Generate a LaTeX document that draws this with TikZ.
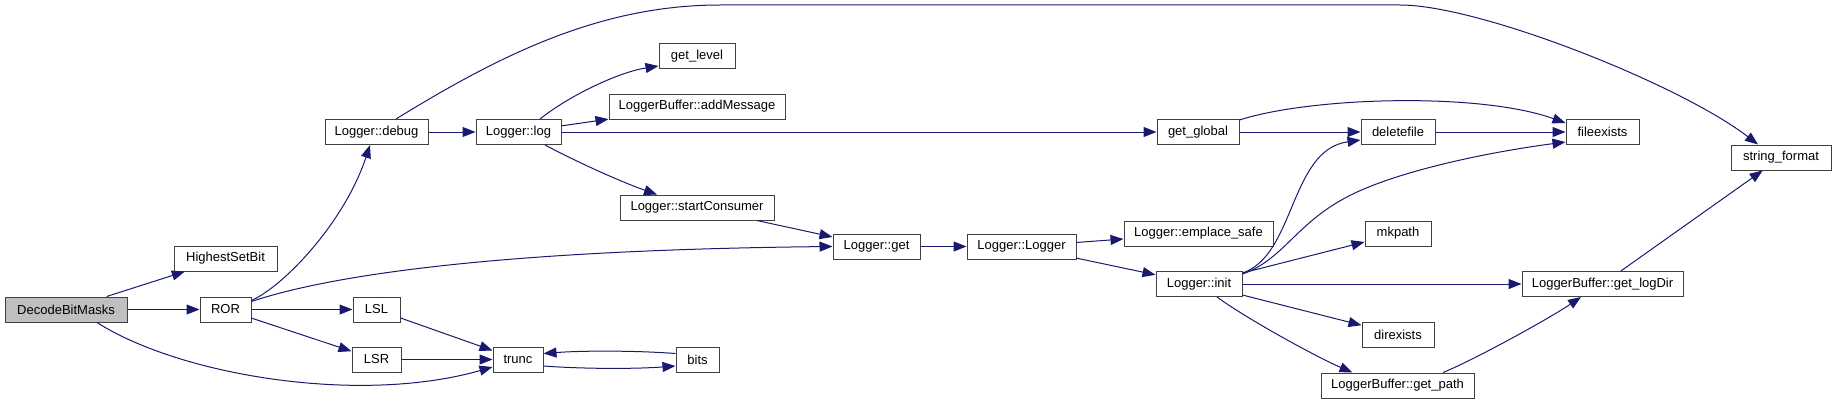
\documentclass[tikz,border=0pt]{standalone}
\usepackage{fontspec}
\setmainfont{Liberation Sans}
\usetikzlibrary{arrows.meta}
\definecolor{edgeblue}{HTML}{191970}
\definecolor{boxline}{HTML}{404040}
\definecolor{rootfill}{HTML}{BFBFBF}
\tikzset{
  fn/.style={draw=boxline, line width=1pt, fill=white, minimum height=25pt, inner sep=0pt,
    font=\fontsize{13pt}{15pt}\selectfont},
  edge/.style={draw=edgeblue, line width=1pt,
    -{Triangle[length=13pt, width=10pt]}},
}
\begin{document}
\begin{tikzpicture}[x=1pt, y=-1pt]
\useasboundingbox (0,0) rectangle (1833,404);
% nodes
\node[fn, fill=rootfill, minimum width=122pt] (decode) at (66,309.5) {DecodeBitMasks};
\node[fn, minimum width=103pt] (hsb) at (225.5,258.5) {HighestSetBit};
\node[fn, minimum width=51pt] (ror) at (225.5,309.5) {ROR};
\node[fn, minimum width=103pt] (debug) at (376.5,132) {Logger::debug};
\node[fn, minimum width=47pt] (lsl) at (376.5,309.5) {LSL};
\node[fn, minimum width=49pt] (lsr) at (376.5,359.5) {LSR};
\node[fn, minimum width=85pt] (log) at (518.5,132) {Logger::log};
\node[fn, minimum width=50pt] (trunc) at (518,359.5) {trunc};
\node[fn, minimum width=76pt] (getlevel) at (697,56) {get\_level};
\node[fn, minimum width=176pt] (addmsg) at (697,106.5) {LoggerBuffer::addMessage};
\node[fn, minimum width=154pt] (startc) at (697,207.5) {Logger::startConsumer};
\node[fn, minimum width=43pt] (bits) at (697.5,359.5) {bits};
\node[fn, minimum width=82pt] (getglobal) at (1198,132) {get\_global};
\node[fn, minimum width=87pt] (get) at (876.5,246.5) {Logger::get};
\node[fn, minimum width=109pt] (ctor) at (1021.5,246.5) {Logger::Logger};
\node[fn, minimum width=149pt] (emplace) at (1198.5,233.5) {Logger::emplace\_safe};
\node[fn, minimum width=86pt] (init) at (1199,284) {Logger::init};
\node[fn, minimum width=74pt] (deletefile) at (1398,132) {deletefile};
\node[fn, minimum width=73pt] (fileexists) at (1602.5,132) {fileexists};
\node[fn, minimum width=100pt] (strfmt) at (1781,157.5) {string\_format};
\node[fn, minimum width=66pt] (mkpath) at (1398,233.5) {mkpath};
\node[fn, minimum width=161pt] (logdir) at (1602.5,284) {LoggerBuffer::get\_logDir};
\node[fn, minimum width=72pt] (direxists) at (1398,334.5) {direxists};
\node[fn, minimum width=153pt] (getpath) at (1397.5,385.5) {LoggerBuffer::get\_path};
% waypoints
\coordinate (topL) at (720,5);
\coordinate (topR) at (1400,5);
\coordinate (wp) at (1345,198);
% edges
\draw[edge] (decode) -- (hsb);
\draw[edge] (decode) -- (ror);
\draw[edge] ([xshift=31pt]decode.south) .. controls +(83,53) and +(-133,38) .. ([yshift=-7.5pt]trunc.west);
\draw[edge] ([yshift=9pt]ror.east) .. controls +(34,-15.5) and +(-25,76) .. ([xshift=-6.5pt]debug.south);
\draw[edge] ([yshift=8pt]ror.east) .. controls +(79,-26.5) and +(-333,3.5) .. (get.west);
\draw[edge] (ror) -- (lsl);
\draw[edge] (ror) -- (lsr);
\draw[edge] (lsl) -- (trunc);
\draw[edge] (lsr) -- (trunc);
\draw[edge] ([yshift=-6.5pt]trunc.east) .. controls +(40,3) and +(-40,3) .. ([yshift=-6.5pt]bits.west);
\draw[edge] ([yshift=6pt]bits.west) .. controls +(-40,-3) and +(40,-3) .. ([yshift=6pt]trunc.east);
\draw[edge] (debug) -- (log);
\draw[edge] ([xshift=19.5pt]debug.north) .. controls +(104,-64) and +(-120,0) .. (topL) -- (topR)
  .. controls +(80,0) and +(-78,-60) .. ([xshift=-23pt]strfmt.north);
\draw[edge] ([xshift=21.5pt]log.north) .. controls +(30,-24) and +(-39,6) .. ([yshift=-10pt]getlevel.west);
\draw[edge] (log) -- (addmsg);
\draw[edge] (log) -- (getglobal);
\draw[edge] ([xshift=26.5pt]log.south) .. controls +(30,16) and +(-37,-13) .. ([xshift=-40pt]startc.north);
\draw[edge] (startc) -- (get);
\draw[edge] (get) -- (ctor);
\draw[edge] (ctor) -- (emplace);
\draw[edge] (ctor) -- (init);
\draw[edge] (getglobal) -- (deletefile);
\draw[edge] ([yshift=12pt]getglobal.east) .. controls +(71,-23) and +(-86,-31) .. ([yshift=9pt]fileexists.west);
\draw[edge] (deletefile) -- (fileexists);
\draw[edge] ([yshift=11pt]init.east) .. controls +(53,-18) and +(-71,10) .. ([yshift=-8pt]deletefile.west);
\draw[edge] ([yshift=10pt]init.east) .. controls +(40,-14) and +(-50,27) .. (wp)
  .. controls +(50,-27) and +(-76,10) .. ([yshift=-10pt]fileexists.west);
\draw[edge] (init) -- (mkpath);
\draw[edge] (init) -- (logdir);
\draw[edge] (init) -- (direxists);
\draw[edge] ([xshift=18pt]init.south) .. controls +(30,22) and +(-35,-15) .. ([xshift=-45pt]getpath.north);
\draw[edge] (logdir) -- (strfmt);
\draw[edge] ([xshift=45.5pt]getpath.north) .. controls +(32,-13) and +(-31,21) .. ([xshift=-21.5pt]logdir.south);
\end{tikzpicture}
\end{document}
